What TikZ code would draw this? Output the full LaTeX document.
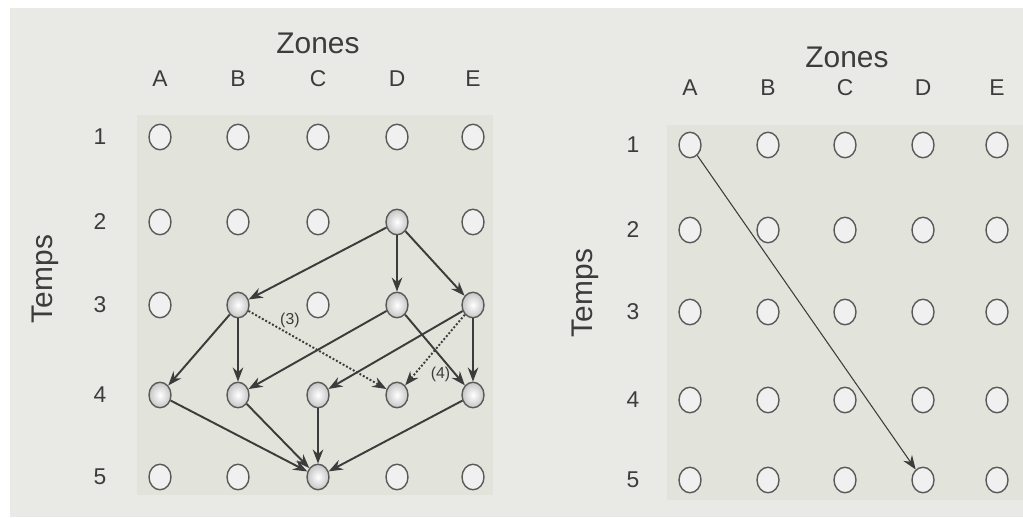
\documentclass[tikz,border=0pt]{standalone}
\usepackage{fontspec}
\setmainfont{Liberation Sans}
\usetikzlibrary{arrows.meta,shapes.geometric}

\definecolor{paper}{HTML}{E9E9E6}
\definecolor{zone}{HTML}{E2E3DA}
\definecolor{ink}{HTML}{3C3C3C}

\tikzset{
  site/.style={ellipse,draw=ink!85,fill=white!88!gray,line width=0.8pt,
    minimum width=4.4mm,minimum height=5.1mm,inner sep=0pt},
  hit/.style={shading=radial,inner color=white,outer color=gray!45},
  head/.style={text=ink,font=\fontsize{17}{17}\selectfont},
  tick/.style={text=ink,font=\fontsize{13}{13}\selectfont},
  flow/.style={draw=ink,line width=1.1pt,-{Stealth[length=8pt,width=6pt]}},
  maybe/.style={flow,dash pattern=on 1.1pt off 1.1pt},
  tag/.style={text=ink,font=\fontsize{9}{9}\selectfont,inner sep=1pt}
}

\begin{document}
\begin{tikzpicture}[x=0.2mm,y=-0.2mm]

        \useasboundingbox (0,0) rectangle (1023,517);
        \fill[white] (0,0) rectangle (1023,517);
        \fill[paper] (10,8) rectangle (1023,517);
        \fill[zone] (137,115) rectangle (493,495);
        \fill[zone] (667,125) rectangle (1023,500);

        % left grid
        \node[head] (zl) at (318,43) {Zones};
        \node[head,rotate=90] (tl) at (45,279) {Temps};
        \begin{scope}[every node/.style={tick}]
          \node (cA) at (160,79) {A};
          \node (cB) at (238,79) {B};
          \node (cC) at (318,79) {C};
          \node (cD) at (397,79) {D};
          \node (cE) at (473,79) {E};
          \node (r1) at (100,137) {1};
          \node (r2) at (100,222) {2};
          \node (r3) at (100,305) {3};
          \node (r4) at (100,395) {4};
          \node (r5) at (100,477) {5};
        \end{scope}

        \begin{scope}[every node/.style={site}]
          \node (A1) at (160,137) {}; \node (B1) at (238,137) {};
          \node (C1) at (318,137) {}; \node (D1) at (397,137) {};
          \node (E1) at (473,137) {};
          \node (A2) at (160,222) {}; \node (B2) at (238,222) {};
          \node (C2) at (318,222) {}; \node[hit] (D2) at (397,222) {};
          \node (E2) at (473,222) {};
          \node (A3) at (160,305) {}; \node[hit] (B3) at (238,305) {};
          \node (C3) at (318,305) {}; \node[hit] (D3) at (397,305) {};
          \node[hit] (E3) at (473,305) {};
          \node[hit] (A4) at (160,395) {}; \node[hit] (B4) at (238,395) {};
          \node[hit] (C4) at (318,395) {}; \node[hit] (D4) at (397,395) {};
          \node[hit] (E4) at (473,395) {};
          \node (A5) at (160,477) {}; \node (B5) at (238,477) {};
          \node[hit] (C5) at (318,477) {}; \node (D5) at (397,477) {};
          \node (E5) at (473,477) {};
        \end{scope}

        \begin{scope}[every edge/.style={flow}]
          \path (D2) edge (B3);
          \path (D2) edge (D3);
          \path (D2) edge (E3);
          \path (B3) edge (A4);
          \path (B3) edge (B4);
          \path (D3) edge (B4);
          \path (D3) edge (E4);
          \path (E3) edge (C4);
          \path (E3) edge (E4);
          \path (A4) edge (C5);
          \path (B4) edge (C5);
          \path (C4) edge (C5);
          \path (E4) edge (C5);
        \end{scope}
        \begin{scope}[every edge/.style={maybe}]
          \path (B3) edge node[tag,pos=0.3,above=2pt] (n3) {(3)} (D4);
          \path (E3) edge node[tag,pos=0.85,right=8pt] (n4) {(4)} (D4);
        \end{scope}

        % right grid
        \node[head] (zr) at (847,57) {Zones};
        \node[head,rotate=90] (tr) at (585,293) {Temps};
        \begin{scope}[every node/.style={tick}]
          \node (sA) at (690,88) {A};
          \node (sB) at (768,88) {B};
          \node (sC) at (845,88) {C};
          \node (sD) at (923,88) {D};
          \node (sE) at (997,88) {E};
          \node (s1) at (633,145) {1};
          \node (s2) at (633,230) {2};
          \node (s3) at (633,312) {3};
          \node (s4) at (633,400) {4};
          \node (s5) at (633,480) {5};
        \end{scope}

        \begin{scope}[every node/.style={site}]
          \node (rA1) at (690,145) {}; \node (rB1) at (768,145) {};
          \node (rC1) at (845,145) {}; \node (rD1) at (923,145) {};
          \node (rE1) at (997,145) {};
          \node (rA2) at (690,230) {}; \node (rB2) at (768,230) {};
          \node (rC2) at (845,230) {}; \node (rD2) at (923,230) {};
          \node (rE2) at (997,230) {};
          \node (rA3) at (690,312) {}; \node (rB3) at (768,312) {};
          \node (rC3) at (845,312) {}; \node (rD3) at (923,312) {};
          \node (rE3) at (997,312) {};
          \node (rA4) at (690,400) {}; \node (rB4) at (768,400) {};
          \node (rC4) at (845,400) {}; \node (rD4) at (923,400) {};
          \node (rE4) at (997,400) {};
          \node (rA5) at (690,480) {}; \node (rB5) at (768,480) {};
          \node (rC5) at (845,480) {}; \node (rD5) at (923,480) {};
          \node (rE5) at (997,480) {};
        \end{scope}

        \path (rA1) edge[flow,line width=0.6pt] (rD5);

\end{tikzpicture}
\end{document}
